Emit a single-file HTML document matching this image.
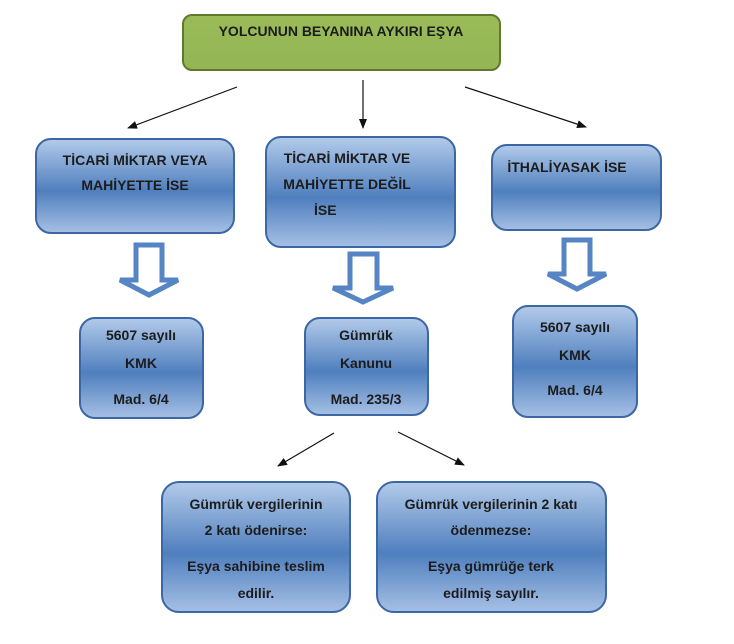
<!DOCTYPE html>
<html><head><meta charset="utf-8"><style>
html,body{margin:0;padding:0;background:#fff;}
svg{display:block;}
text{font-family:"Liberation Sans",sans-serif;font-weight:bold;font-size:14px;fill:#1c1c1c;text-anchor:middle;}
</style></head><body>
<svg width="734" height="644" viewBox="0 0 734 644" xmlns="http://www.w3.org/2000/svg">
<defs>
<linearGradient id="b" x1="0" y1="0" x2="0" y2="1">
<stop offset="0" stop-color="#b3cbea"/><stop offset="0.55" stop-color="#4f7fbe"/><stop offset="1" stop-color="#a6c0e5"/>
</linearGradient>
<linearGradient id="g" x1="0" y1="0" x2="0" y2="1">
<stop offset="0" stop-color="#9bbb59"/><stop offset="1" stop-color="#93b553"/>
</linearGradient>
<marker id="a" markerWidth="10" markerHeight="8" refX="9" refY="4" orient="auto" markerUnits="userSpaceOnUse">
<path d="M0,0 L10,4 L0,8 Z" fill="#111"/></marker>
</defs>
<g stroke="#111" stroke-width="1.2" fill="none">
<line x1="237" y1="87" x2="128" y2="128" marker-end="url(#a)"/>
<line x1="363" y1="80" x2="363" y2="128" marker-end="url(#a)"/>
<line x1="465" y1="87" x2="586" y2="127" marker-end="url(#a)"/>
<line x1="334" y1="433" x2="278" y2="466" marker-end="url(#a)"/>
<line x1="398" y1="432" x2="464" y2="465" marker-end="url(#a)"/>
</g>
<rect x="183" y="15" width="317" height="55" rx="9" fill="url(#g)" stroke="#5f7a2f" stroke-width="2"/>
<text x="341" y="36">YOLCUNUN BEYANINA AYKIRI EŞYA</text>
<g stroke="#3c67a3" stroke-width="2" fill="url(#b)">
<rect x="36" y="139" width="198" height="94" rx="15"/>
<rect x="266" y="137" width="189" height="110" rx="15"/>
<rect x="492" y="145" width="169" height="85" rx="15"/>
<rect x="80" y="318" width="123" height="100" rx="15"/>
<rect x="305" y="318" width="123" height="97" rx="15"/>
<rect x="513" y="306" width="124" height="111" rx="15"/>
<rect x="162" y="482" width="188" height="130" rx="17"/>
<rect x="377" y="482" width="229" height="130" rx="17"/>
</g>
<g fill="#fff" stroke="#5585c4" stroke-width="5" stroke-linejoin="miter">
<path d="M136,245 L162,245 L162,280 L178,280 L149,295 L120,280 L136,280 Z"/>
<path d="M350,254 L377,254 L377,288 L393,288 L363,302 L333,288 L350,288 Z"/>
<path d="M564,240 L590,240 L590,274 L606,274 L577,289 L548,274 L564,274 Z"/>
</g>
<text x="135" y="165">TİCARİ MİKTAR VEYA</text>
<text x="135" y="190">MAHİYETTE İSE</text>
<text x="347" y="163">TİCARİ MİKTAR VE</text>
<text x="347" y="189">MAHİYETTE  DEĞİL</text>
<text x="314" y="215" style="text-anchor:start">İSE</text>
<text x="567" y="172">İTHALİYASAK İSE</text>
<text x="141" y="340">5607 sayılı</text>
<text x="141" y="368">KMK</text>
<text x="141" y="404">Mad. 6/4</text>
<text x="366" y="340">Gümrük</text>
<text x="366" y="368">Kanunu</text>
<text x="366" y="404">Mad. 235/3</text>
<text x="575" y="332">5607 sayılı</text>
<text x="575" y="360">KMK</text>
<text x="575" y="395">Mad. 6/4</text>
<text x="256" y="509">Gümrük vergilerinin</text>
<text x="256" y="535">2 katı ödenirse:</text>
<text x="256" y="571">Eşya sahibine teslim</text>
<text x="256" y="598">edilir.</text>
<text x="491" y="509">Gümrük vergilerinin 2 katı</text>
<text x="491" y="535">ödenmezse:</text>
<text x="491" y="571">Eşya gümrüğe terk</text>
<text x="491" y="598">edilmiş sayılır.</text>
</svg>
</body></html>
